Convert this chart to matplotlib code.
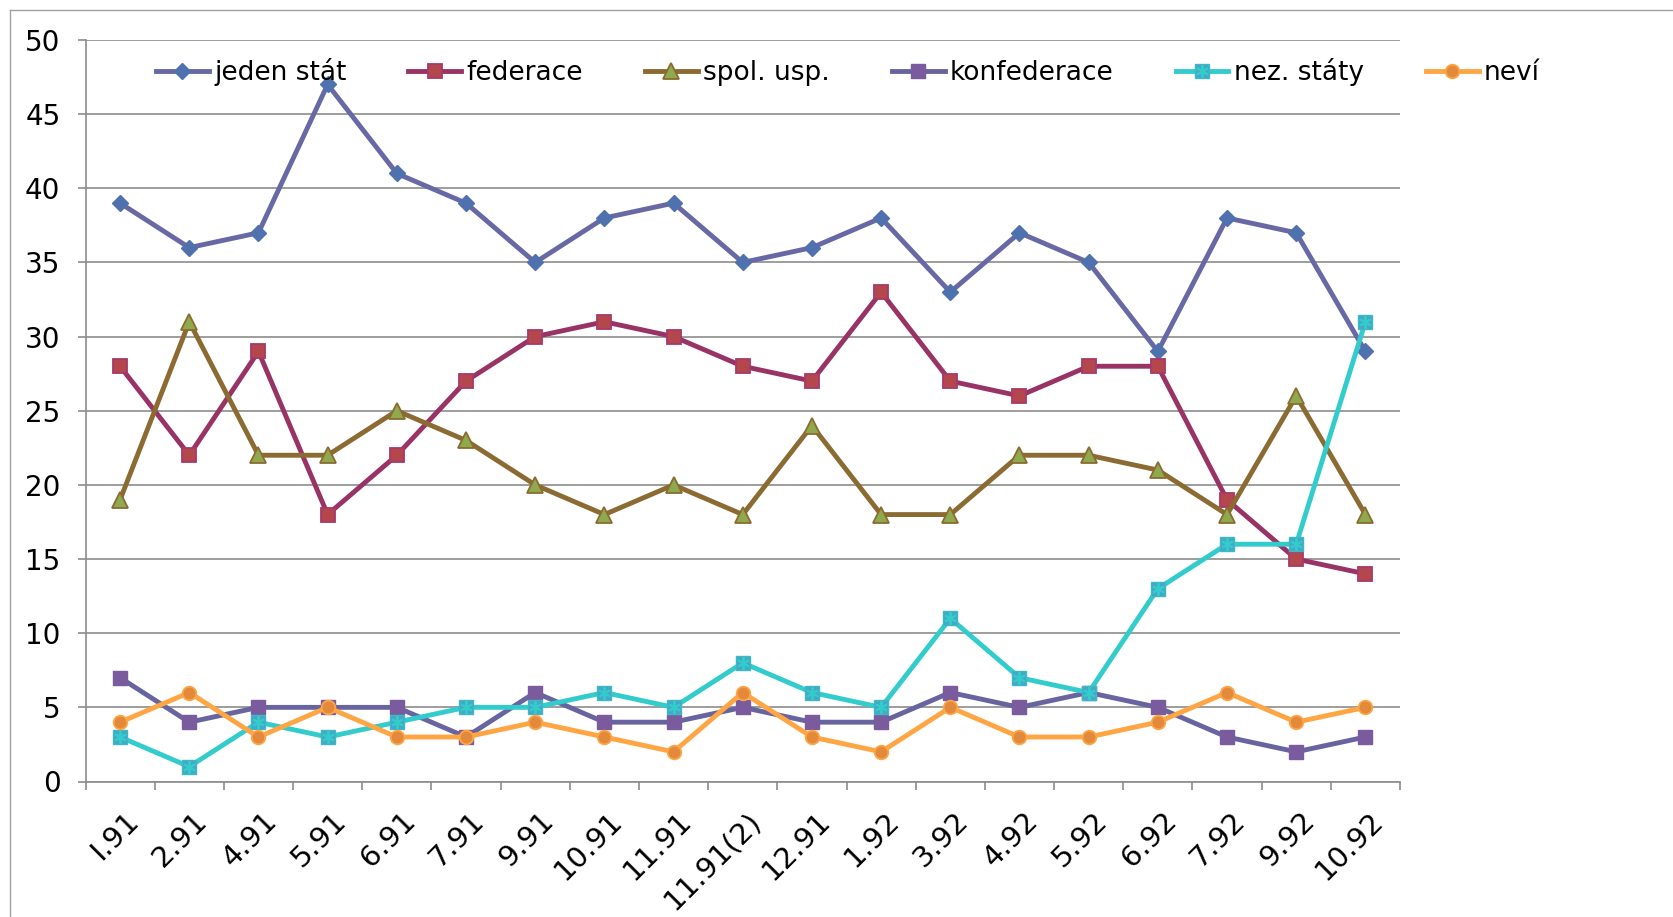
import matplotlib
matplotlib.use("Agg")
import matplotlib.pyplot as plt
import numpy as np
from matplotlib.lines import Line2D
from matplotlib.transforms import ScaledTranslation

plt.rcParams["font.family"] = ["DejaVu Sans"]

# survey dates
dates = ["I.91", "2.91", "4.91", "5.91", "6.91", "7.91", "9.91", "10.91",
         "11.91", "11.91(2)", "12.91", "1.92", "3.92", "4.92", "5.92",
         "6.92", "7.92", "9.92", "10.92"]

# answers (%)
jeden_stat = [39, 36, 37, 47, 41, 39, 35, 38, 39, 35, 36, 38, 33, 37, 35, 29, 38, 37, 29]
federace = [28, 22, 29, 18, 22, 27, 30, 31, 30, 28, 27, 33, 27, 26, 28, 28, 19, 15, 14]
spol_usp = [19, 31, 22, 22, 25, 23, 20, 18, 20, 18, 24, 18, 18, 22, 22, 21, 18, 26, 18]
konfederace = [7, 4, 5, 5, 5, 3, 6, 4, 4, 5, 4, 4, 6, 5, 6, 5, 3, 2, 3]
nez_staty = [3, 1, 4, 3, 4, 5, 5, 6, 5, 8, 6, 5, 11, 7, 6, 13, 16, 16, 31]
nevi = [4, 6, 3, 5, 3, 3, 4, 3, 2, 6, 3, 2, 5, 3, 3, 4, 6, 4, 5]

W, H = 1673, 917
fig = plt.figure(figsize=(W / 100, H / 100), dpi=100)
ax = fig.add_axes([85.5 / W, 1 - 781.5 / H, 1314.5 / W, 741.5 / H])

x = np.arange(len(dates))
lw = 3.5
ms = 9.8

ax.plot(x, jeden_stat, color="#6868A4", lw=lw, marker="D", ms=8,
        mfc="#4F72AE", mec="#4F72AE", label="jeden stát", zorder=5)
ax.plot(x, federace, color="#993366", lw=lw, marker="s", ms=ms,
        mfc="#B3474B", mec="#A8386A", mew=1.3, label="federace", zorder=5)
ax.plot(x, spol_usp, color="#8C6B32", lw=lw, marker="^", ms=11,
        mfc="#8FAA4C", mec="#8C6B32", mew=1.3, label="spol. usp.", zorder=5)
ax.plot(x, konfederace, color="#6864A0", lw=lw, marker="s", ms=ms,
        mfc="#7A5C9E", mec="#7A5C9E", label="konfederace", zorder=5)
ax.plot(x, nez_staty, color="#33CCCC", lw=lw, marker="s", ms=ms,
        mfc="#45A9C2", mec="#3DB8C8", mew=1.0, label="nez. státy", zorder=5)
ax.plot(x, nez_staty, ls="none", marker=(6, 2, 0), ms=9,
        mec="#33CCCC", mew=1.4, zorder=6)
ax.plot(x, nevi, color="#FFA544", lw=lw, marker="o", ms=ms,
        mfc="#E2893C", mec="#FFA544", mew=1.3, label="neví", zorder=5)

ax.set_xlim(-0.5, len(dates) - 0.5)
ax.set_ylim(0, 50)
ax.set_yticks(np.arange(0, 51, 5))
ax.set_xticks(np.arange(-0.5, len(dates), 1.0))
ax.set_xticklabels([])
ax.set_xticks(x, minor=True)
ax.set_xticklabels(dates, minor=True, rotation=45, ha="right", va="center",
                   rotation_mode="anchor", fontsize=21)

grid_c = "#8C8C8C"
ax.grid(axis="y", color=grid_c, lw=1.2)
ax.set_axisbelow(True)
for s in ["top", "right"]:
    ax.spines[s].set_visible(False)
for s in ["left", "bottom"]:
    ax.spines[s].set_color(grid_c)
    ax.spines[s].set_linewidth(1.2)

ax.tick_params(axis="y", which="major", length=6, color=grid_c, width=1.2,
               labelsize=20, pad=12)
ax.tick_params(axis="x", which="major", length=6, color=grid_c, width=1.2)
ax.tick_params(axis="x", which="minor", length=0, pad=25)

offset = ScaledTranslation(0.14, 0, fig.dpi_scale_trans)
for lab in ax.get_xticklabels(minor=True):
    lab.set_transform(lab.get_transform() + offset)

handles, labels = ax.get_legend_handles_labels()
handles[4] = (handles[4], ax.lines[5])
leg = fig.legend(handles, labels, loc="center left", ncol=6, frameon=False,
                 fontsize=19, handlelength=2.0, handletextpad=0.2,
                 columnspacing=2.35, borderpad=0, borderaxespad=0,
                 bbox_to_anchor=(156 / W, 1 - 72 / H))

# outer chart frame (left and top edges visible)
frame_c = "#A0A0A0"
fig.add_artist(Line2D([10 / W, 10 / W], [0, 1 - 10 / H], color=frame_c, lw=1.0))
fig.add_artist(Line2D([10 / W, 1], [1 - 10 / H, 1 - 10 / H], color=frame_c, lw=1.0))

fig.savefig("out.png", dpi=100)
